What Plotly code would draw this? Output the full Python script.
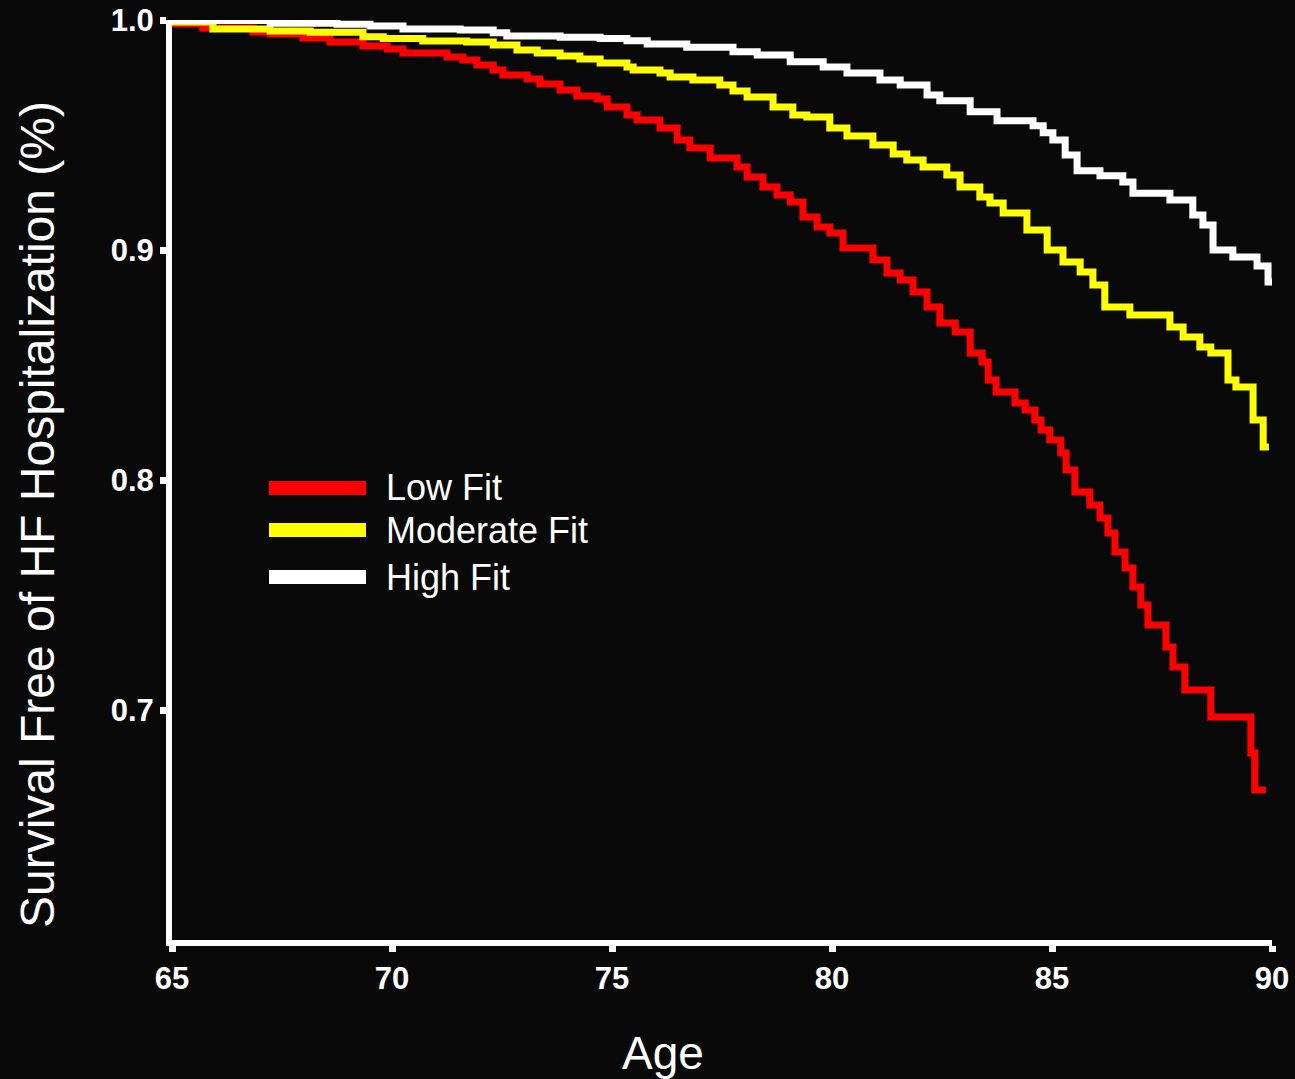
import plotly.graph_objects as go

# ---- data (step start ages and survival values) ----
low_age = [65.00, 65.70, 66.84, 67.23, 67.98, 68.59, 69.34, 69.89, 70.25, 71.25, 71.61, 71.93,
           72.30, 72.52, 73.07, 73.36, 73.82, 74.20, 74.66, 74.89, 75.34, 75.57, 76.09, 76.48,
           76.77, 77.23, 77.84, 78.07, 78.43, 78.75, 79.05, 79.34, 79.66, 79.95, 80.25, 80.93,
           81.25, 81.55, 81.84, 82.16, 82.45, 82.80, 83.14, 83.41, 83.55, 83.73, 84.16, 84.39,
           84.61, 84.75, 84.95, 85.20, 85.32, 85.52, 85.86, 86.09, 86.27, 86.43, 86.66, 86.84,
           87.02, 87.18, 87.59, 87.75, 88.02, 88.61, 89.52, 89.61, 89.86]
low_surv = [0.9983, 0.9965, 0.9948, 0.9939, 0.9922, 0.9904, 0.9887, 0.9874, 0.9857, 0.9839, 0.9826, 0.9804,
            0.9783, 0.9761, 0.9743, 0.9722, 0.9696, 0.9670, 0.9657, 0.9622, 0.9587, 0.9565, 0.9530, 0.9478,
            0.9443, 0.9400, 0.9361, 0.9317, 0.9274, 0.9239, 0.9209, 0.9143, 0.9100, 0.9074, 0.9009, 0.8957,
            0.8900, 0.8870, 0.8817, 0.8752, 0.8683, 0.8643, 0.8552, 0.8513, 0.8435, 0.8383, 0.8335, 0.8304,
            0.8261, 0.8217, 0.8174, 0.8117, 0.8043, 0.7948, 0.7891, 0.7835, 0.7770, 0.7687, 0.7617, 0.7535,
            0.7457, 0.7370, 0.7274, 0.7187, 0.7087, 0.6970, 0.6813, 0.6652, 0.6652]

mod_age = [65.00, 65.93, 67.23, 68.14, 69.34, 69.80, 70.70, 71.70, 72.30, 72.84, 73.30, 73.82,
           74.27, 74.73, 75.34, 75.48, 76.09, 76.32, 76.84, 77.45, 77.75, 78.07, 78.66, 79.11,
           79.43, 79.95, 80.34, 80.93, 81.39, 81.70, 82.07, 82.61, 82.91, 83.36, 83.59, 83.89,
           84.43, 84.89, 85.25, 85.64, 85.93, 86.20, 86.77, 87.68, 87.98, 88.36, 88.61, 89.00,
           89.18, 89.57, 89.80, 89.93]
mod_surv = [0.9991, 0.9961, 0.9952, 0.9947, 0.9927, 0.9920, 0.9909, 0.9904, 0.9891, 0.9870, 0.9857, 0.9843,
            0.9830, 0.9813, 0.9796, 0.9783, 0.9770, 0.9752, 0.9739, 0.9717, 0.9691, 0.9665, 0.9622, 0.9587,
            0.9578, 0.9530, 0.9496, 0.9457, 0.9417, 0.9391, 0.9361, 0.9326, 0.9274, 0.9230, 0.9204, 0.9161,
            0.9087, 0.9000, 0.8948, 0.8904, 0.8848, 0.8752, 0.8717, 0.8665, 0.8622, 0.8578, 0.8552, 0.8435,
            0.8404, 0.8261, 0.8143, 0.8143]

high_age = [65.00, 67.23, 68.75, 69.50, 70.25, 71.55, 72.30, 72.61, 73.82, 74.73, 75.34, 75.80,
            76.70, 77.75, 78.30, 79.05, 79.80, 80.34, 81.09, 81.55, 82.16, 82.45, 83.14, 83.75,
            84.57, 84.80, 85.02, 85.30, 85.57, 86.09, 86.61, 86.84, 87.68, 88.20, 88.43, 88.66,
            89.11, 89.66, 89.91, 90.00]
high_surv = [0.9998, 0.9986, 0.9981, 0.9974, 0.9961, 0.9957, 0.9945, 0.9930, 0.9925, 0.9920, 0.9910, 0.9896,
             0.9881, 0.9862, 0.9848, 0.9819, 0.9796, 0.9770, 0.9739, 0.9717, 0.9674, 0.9649, 0.9601, 0.9562,
             0.9540, 0.9510, 0.9478, 0.9413, 0.9345, 0.9323, 0.9296, 0.9247, 0.9217, 0.9152, 0.9109, 0.9000,
             0.8970, 0.8930, 0.8861, 0.8861]

series_names = ["Low Fit", "Moderate Fit", "High Fit"]
series_colors = ["#ff0000", "#ffff00", "#ffffff"]

x_tick_vals = [65, 70, 75, 80, 85, 90]
x_tick_text = ["65", "70", "75", "80", "85", "90"]
y_tick_vals = [0.7, 0.8, 0.9, 1.0]
y_tick_text = ["0.7", "0.8", "0.9", "1.0"]

x_title = "Age"
y_title = "Survival Free of HF Hospitalization (%)"

BG = "#090909"
FONT = "Liberation Sans, Arial, sans-serif"

fig = go.Figure()
for ages, surv, name, col in zip([low_age, mod_age, high_age],
                                 [low_surv, mod_surv, high_surv],
                                 series_names, series_colors):
    fig.add_trace(go.Scatter(x=ages, y=surv, mode="lines", name=name,
                             line=dict(color=col, width=7, shape="hv"),
                             showlegend=False))

L, R, T, B = 172, 23, 20, 139
W, H = 1295, 1079
pw, ph = W - L - R, H - T - B

def px(xp):
    return (xp - L) / pw

def py(yp):
    return (H - B - yp) / ph

# manual legend (long thick swatches like the reference)
leg_rows = [488, 530, 577]
shapes = []
annotations = []
for name, col, yp in zip(series_names, series_colors, leg_rows):
    shapes.append(dict(type="line", xref="paper", yref="paper",
                       x0=px(269), x1=px(366), y0=py(yp), y1=py(yp),
                       line=dict(color=col, width=14)))
    annotations.append(dict(xref="paper", yref="paper", x=px(384), y=py(yp),
                            xanchor="left", yanchor="middle", showarrow=False,
                            text=name, font=dict(family=FONT, size=36, color="white")))

annotations.append(dict(xref="paper", yref="paper", x=px(663), y=py(1053),
                        xanchor="center", yanchor="middle", showarrow=False,
                        text=x_title, font=dict(family=FONT, size=46, color="white")))
annotations.append(dict(xref="paper", yref="paper", x=px(37), y=py(515),
                        xanchor="center", yanchor="middle", showarrow=False, textangle=-90,
                        text=y_title, font=dict(family=FONT, size=48, color="white")))

fig.update_layout(
    width=W, height=H,
    margin=dict(l=L, r=R, t=T, b=B, autoexpand=False),
    paper_bgcolor=BG, plot_bgcolor=BG,
    shapes=shapes, annotations=annotations,
    showlegend=False,
)
fig.update_xaxes(range=[65, 90], tickvals=x_tick_vals, ticktext=x_tick_text, automargin=False,
                 showgrid=False, zeroline=False, showline=True, linecolor="white", linewidth=6,
                 ticks="outside", ticklen=6, tickwidth=7, tickcolor="white",
                 tickfont=dict(family=FONT, size=31, color="white", weight="bold"))
fig.update_yaxes(range=[0.6, 1.0], tickvals=y_tick_vals, ticktext=y_tick_text, automargin=False,
                 showgrid=False, zeroline=False, showline=True, linecolor="white", linewidth=6,
                 ticks="outside", ticklen=6, tickwidth=7, tickcolor="white",
                 tickfont=dict(family=FONT, size=31, color="white", weight="bold"))

fig.write_html("out.html")
